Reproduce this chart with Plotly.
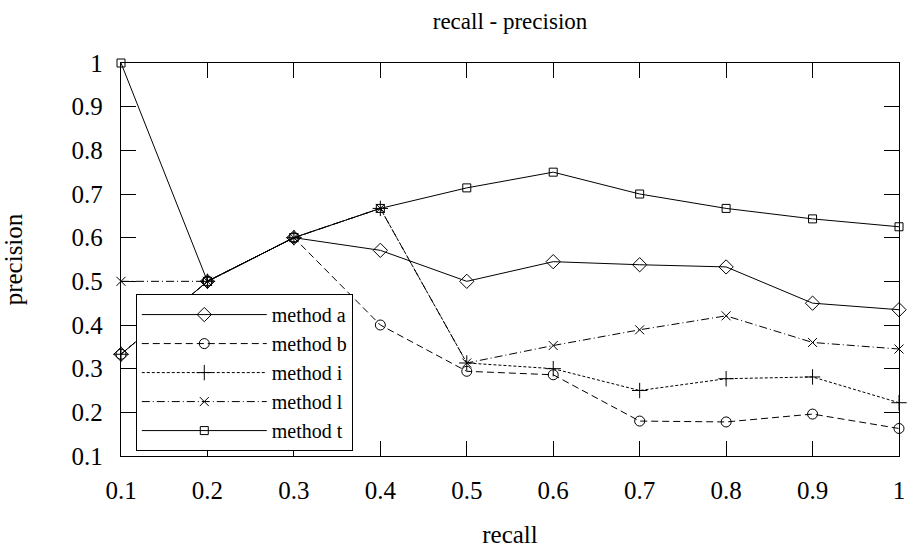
import plotly.graph_objects as go

recall = [0.1, 0.2, 0.3, 0.4, 0.5, 0.6, 0.7, 0.8, 0.9, 1.0]
method_a = [0.333, 0.5, 0.6, 0.571, 0.5, 0.545, 0.538, 0.533, 0.45, 0.435]
method_b = [0.333, 0.5, 0.6, 0.4, 0.294, 0.286, 0.18, 0.178, 0.196, 0.163]
method_i = [0.333, 0.5, 0.6, 0.667, 0.313, 0.30, 0.25, 0.277, 0.281, 0.222]
method_l = [0.5, 0.5, 0.6, 0.667, 0.313, 0.353, 0.389, 0.421, 0.36, 0.345]
method_t = [1.0, 0.5, 0.6, 0.667, 0.714, 0.75, 0.70, 0.667, 0.643, 0.625]

tick_vals = [0.1, 0.2, 0.3, 0.4, 0.5, 0.6, 0.7, 0.8, 0.9, 1.0]
tick_text = ["0.1", "0.2", "0.3", "0.4", "0.5", "0.6", "0.7", "0.8", "0.9", "1"]

FONT = "'Liberation Serif', 'DejaVu Serif', serif"

series = [
    ("method a", method_a, "solid", "diamond-open", 11),
    ("method b", method_b, "7px,4px", "circle-open", 10),
    ("method i", method_i, "3px,2px", "cross-thin-open", 11),
    ("method l", method_l, "8px,3px,1px,3px", "x-thin-open", 9),
    ("method t", method_t, "solid", "square-open", 8),
]

fig = go.Figure()
for name, ys, dash, sym, size in series:
    fig.add_trace(go.Scatter(
        x=recall, y=ys, name=name, mode="lines+markers",
        line=dict(color="black", width=1, dash=dash),
        marker=dict(symbol=sym, size=size, color="black",
                    line=dict(color="black", width=1)),
        cliponaxis=False,
    ))

axis_common = dict(
    showgrid=False, zeroline=False,
    showline=True, linecolor="black", linewidth=1.3, mirror="ticks",
    ticks="inside", ticklen=15, tickwidth=1, tickcolor="black",
    tickfont=dict(family=FONT, size=25, color="black"),
    tickvals=tick_vals, ticktext=tick_text,
)

fig.update_layout(
    width=911, height=550,
    paper_bgcolor="white", plot_bgcolor="white",
    margin=dict(l=121, r=6, t=63, b=87),
    font=dict(family=FONT, color="black"),
    title=dict(text="recall - precision", x=0.5, xref="paper", xanchor="center",
               y=1 - 21 / 550, yanchor="middle",
               font=dict(family=FONT, size=23, color="black")),
    xaxis=dict(range=[0.1, 1.0], ticklabelstandoff=12,
               title=dict(text="recall", standoff=22,
                          font=dict(family=FONT, size=25, color="black")),
               **axis_common),
    yaxis=dict(range=[0.1, 1.0], ticklabelstandoff=12,
               title=dict(text="precision", standoff=42,
                          font=dict(family=FONT, size=25, color="black")),
               **axis_common),
    legend=dict(x=0.019, y=0.412, xanchor="left", yanchor="top",
                bgcolor="white", bordercolor="black", borderwidth=1,
                font=dict(family=FONT, size=20, color="black"),
                itemwidth=125, tracegroupgap=0),
    showlegend=True,
)

fig.write_html("out.html")
